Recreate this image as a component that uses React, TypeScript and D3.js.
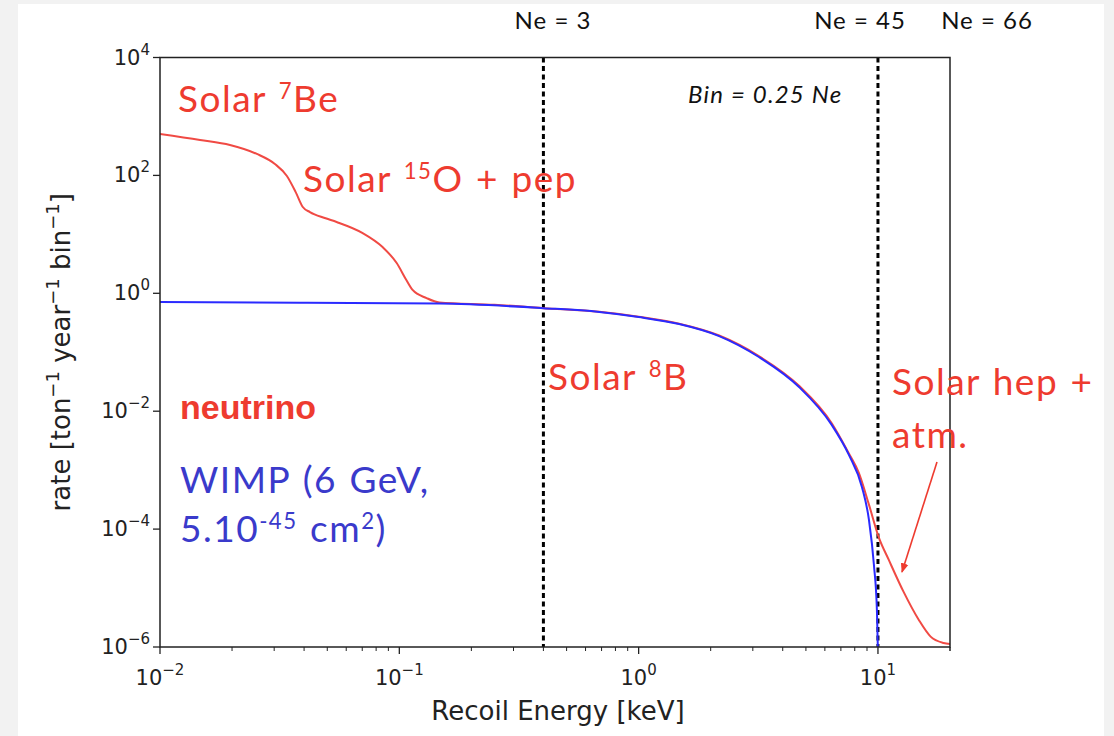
import React, { useRef, useEffect } from 'react';
import * as d3 from 'd3';

// neutrino background (red) and WIMP signal (blue)
const nuEnergy = [0.01, 0.0147, 0.0196, 0.0254, 0.0302, 0.0339, 0.0369, 0.0395, 0.0423, 0.0488, 0.0547, 0.0703, 0.0851, 0.0975, 0.107, 0.1136, 0.13, 0.147, 0.25, 0.4, 0.685, 1.0, 1.476, 2.17, 3.18, 4.68, 6.42, 7.57, 8.32, 9.17, 10.07, 11.1, 12.8, 14.8, 16.6, 18.8, 20];
const nuRate = [504, 399, 328, 231, 156, 97.7, 52, 29.1, 23.9, 18.9, 16.2, 10.5, 6.1, 3.26, 1.68, 1.14, 0.83, 0.7, 0.64, 0.56, 0.485, 0.4, 0.305, 0.192, 0.086, 0.027, 0.0062, 0.0019, 9.0e-4, 2.6e-4, 7.3e-5, 3.0e-5, 8.6e-6, 2.9e-6, 1.5e-6, 1.17e-6, 1.12e-6];

const wimpEnergy = [0.01, 0.0384, 0.147, 0.4, 0.685, 1.0, 1.476, 2.17, 3.18, 4.68, 6.42, 7.57, 8.57, 9.17, 9.62, 9.9, 10.0];
const wimpRate = [0.71, 0.69, 0.67, 0.56, 0.482, 0.396, 0.301, 0.188, 0.083, 0.0257, 0.0058, 0.0018, 5.2e-4, 1.43e-4, 2.46e-5, 4.2e-6, 8e-7];

const xMajor = [0.01, 0.1, 1, 10];
const xMajorExp = ['\u22122', '\u22121', '0', '1'];
const yMajor = [1e-6, 1e-4, 1e-2, 1, 1e2, 1e4];
const yMajorExp = ['\u22126', '\u22124', '\u22122', '0', '2', '4'];

const neLines = [0.4, 10];
const neLabels = ['Ne = 3', 'Ne = 45', 'Ne = 66'];

const RED = '#ee3b2f';
const BLUE = '#3a3acb';

function App() {
    const svgRef = useRef<SVGSVGElement>(null);

    useEffect(() => {
        const W = 1114, H = 736;
        const m = { left: 160, right: 950, top: 57.5, bottom: 647 };
        const svg = d3.select(svgRef.current);
        svg.selectAll('*').remove();

        svg.append('rect').attr('width', W).attr('height', H).attr('fill', '#f2f2f2');
        svg.append('rect').attr('x', 18).attr('y', 4).attr('width', 1086).attr('height', H - 4).attr('fill', '#fff');

        const x = d3.scaleLog().domain([0.01, 20]).range([m.left, m.right]);
        const y = d3.scaleLog().domain([1e-6, 1e4]).range([m.bottom, m.top]);

        svg.append('clipPath').attr('id', 'plot')
            .append('rect')
            .attr('x', m.left).attr('y', m.top)
            .attr('width', m.right - m.left).attr('height', m.bottom - m.top);

        const line = d3.line<[number, number]>()
            .x(d => x(d[0]))
            .y(d => y(d[1]))
            .curve(d3.curveMonotoneX);

        const g = svg.append('g').attr('clip-path', 'url(#plot)');

        // Ne thresholds
        g.selectAll('.ne')
            .data(neLines)
            .join('line')
            .attr('x1', d => x(d)).attr('x2', d => x(d))
            .attr('y1', m.top).attr('y2', m.bottom)
            .attr('stroke', '#000')
            .attr('stroke-width', 3)
            .attr('stroke-dasharray', '5,3.5');

        g.append('path')
            .datum(nuEnergy.map((e, i) => [e, nuRate[i]] as [number, number]))
            .attr('d', line)
            .attr('fill', 'none')
            .attr('stroke', '#f04a44')
            .attr('stroke-width', 2);

        g.append('path')
            .datum(wimpEnergy.map((e, i) => [e, wimpRate[i]] as [number, number]))
            .attr('d', line)
            .attr('fill', 'none')
            .attr('stroke', '#2a2aff')
            .attr('stroke-width', 2);

        // frame
        svg.append('rect')
            .attr('x', m.left).attr('y', m.top)
            .attr('width', m.right - m.left).attr('height', m.bottom - m.top)
            .attr('fill', 'none').attr('stroke', '#222').attr('stroke-width', 1.5);

        const tickFont = 'DejaVu Sans';

        // x ticks
        const xMinor: number[] = [];
        [0.01, 0.1, 1, 10].forEach(dec => {
            for (let k = 2; k <= 9; k++) if (dec * k <= 20) xMinor.push(dec * k);
        });
        xMinor.push(20);
        svg.append('g').selectAll('line')
            .data(xMinor)
            .join('line')
            .attr('x1', d => x(d)).attr('x2', d => x(d))
            .attr('y1', m.bottom).attr('y2', m.bottom + 4)
            .attr('stroke', '#222').attr('stroke-width', 1);
        svg.append('g').selectAll('line')
            .data(xMajor)
            .join('line')
            .attr('x1', d => x(d)).attr('x2', d => x(d))
            .attr('y1', m.bottom).attr('y2', m.bottom + 7)
            .attr('stroke', '#222').attr('stroke-width', 1.3);

        const xl = svg.append('g').selectAll('text')
            .data(xMajor)
            .join('text')
            .attr('x', d => x(d))
            .attr('y', 685)
            .attr('text-anchor', 'middle')
            .attr('font-family', tickFont)
            .attr('font-size', 21)
            .attr('fill', '#222');
        xl.append('tspan').text('10');
        xl.append('tspan').attr('dy', -10).attr('font-size', 15).text((d, i) => xMajorExp[i]);

        // y ticks
        svg.append('g').selectAll('line')
            .data(yMajor)
            .join('line')
            .attr('x1', m.left - 7).attr('x2', m.left)
            .attr('y1', d => y(d)).attr('y2', d => y(d))
            .attr('stroke', '#222').attr('stroke-width', 1.3);

        const yl = svg.append('g').selectAll('text')
            .data(yMajor)
            .join('text')
            .attr('x', 150)
            .attr('y', d => y(d) + 7)
            .attr('text-anchor', 'end')
            .attr('font-family', tickFont)
            .attr('font-size', 21)
            .attr('fill', '#222');
        yl.append('tspan').text('10');
        yl.append('tspan').attr('dy', -10).attr('font-size', 15).text((d, i) => yMajorExp[i]);

        // axis labels
        svg.append('text')
            .attr('x', (m.left + m.right) / 2 + 3)
            .attr('y', 720)
            .attr('text-anchor', 'middle')
            .attr('font-family', tickFont)
            .attr('font-size', 26)
            .attr('fill', '#222')
            .text('Recoil Energy [keV]');

        const yt = svg.append('text')
            .attr('transform', `translate(70, ${(m.top + m.bottom) / 2}) rotate(-90)`)
            .attr('text-anchor', 'middle')
            .attr('font-family', tickFont)
            .attr('font-size', 26)
            .attr('fill', '#222');
        const yParts: [string, boolean][] = [['rate [ton', false], ['\u22121', true], [' year', false], ['\u22121', true], [' bin', false], ['\u22121', true], [']', false]];
        yParts.forEach(([t, sup], i) => {
            yt.append('tspan')
                .attr('dy', i === 0 ? 0 : (sup ? -11 : 11))
                .attr('font-size', sup ? 18 : 26)
                .text(t);
        });

        // Ne labels above the frame
        const avenir = 'Lato, "Noto Sans", sans-serif';
        const neX = [553, 860, 987];
        svg.append('g').selectAll('text')
            .data(neLabels)
            .join('text')
            .attr('x', (d, i) => neX[i])
            .attr('y', 29)
            .attr('text-anchor', 'middle')
            .attr('font-family', avenir)
            .attr('font-size', 24)
            .attr('letter-spacing', 1)
            .attr('fill', '#111')
            .text(d => d);

        svg.append('text')
            .attr('x', 688).attr('y', 103)
            .attr('font-family', avenir)
            .attr('font-style', 'italic')
            .attr('font-size', 24)
            .attr('letter-spacing', 1.2)
            .attr('fill', '#111')
            .text('Bin = 0.25 Ne');

        // annotations
        const note = (px: number, py: number, parts: [string, boolean][], color: string, size: number, family = avenir, weight = 400, spacing = 1.5) => {
            const t = svg.append('text')
                .attr('x', px).attr('y', py)
                .attr('font-family', family)
                .attr('font-weight', weight)
                .attr('font-size', size)
                .attr('letter-spacing', spacing)
                .attr('word-spacing', spacing)
                .attr('fill', color);
            let up = false;
            parts.forEach(([s, sup]) => {
                const dy = sup === up ? 0 : (sup ? -size * 0.36 : size * 0.36);
                t.append('tspan').attr('dy', dy).attr('font-size', sup ? size * 0.6 : size).text(s);
                up = sup;
            });
        };
        note(178, 112, [['Solar ', false], ['7', true], ['Be', false]], RED, 37);
        note(303, 192, [['Solar ', false], ['15', true], ['O + pep', false]], RED, 37);
        note(548, 390, [['Solar ', false], ['8', true], ['B', false]], RED, 37);
        note(892, 395, [['Solar hep +', false]], RED, 37);
        note(892, 448, [['atm.', false]], RED, 37);
        note(180, 419, [['neutrino', false]], RED, 34, '"Liberation Sans", Arial, sans-serif', 700, 0);
        note(180, 493, [['WIMP (6 GeV,', false]], BLUE, 37);
        note(180, 542, [['5.10', false], ['-45', true], [' cm', false], ['2', true], [')', false]], BLUE, 37);

        // arrow to the hep tail
        svg.append('defs').append('marker')
            .attr('id', 'head')
            .attr('viewBox', '0 0 10 10')
            .attr('refX', 9).attr('refY', 5)
            .attr('markerWidth', 6).attr('markerHeight', 6)
            .attr('orient', 'auto')
            .append('path')
            .attr('d', 'M0,1 L10,5 L0,9 z')
            .attr('fill', RED);
        svg.append('line')
            .attr('x1', 937).attr('y1', 462)
            .attr('x2', 902).attr('y2', 572)
            .attr('stroke', RED).attr('stroke-width', 1.6)
            .attr('marker-end', 'url(#head)');
    }, []);

    return <svg ref={svgRef} width={1114} height={736} style={{ position: 'absolute', left: 0, top: 0, display: 'block' }}></svg>;
}

export default App;
